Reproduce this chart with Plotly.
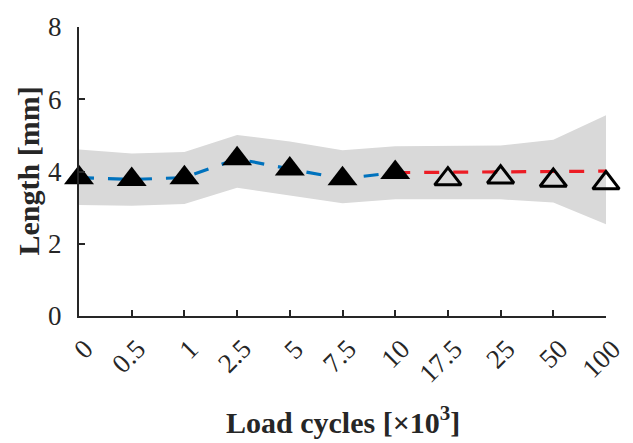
import plotly.graph_objects as go

categories = ["0", "0.5", "1", "2.5", "5", "7.5", "10", "17.5", "25", "50", "100"]
measured = [3.83, 3.78, 3.83, 4.35, 4.07, 3.80, 3.97]
projected_line = [3.97, 3.98, 3.99, 4.00, 4.01]
projected_points = [3.79, 3.84, 3.75, 3.68]
band_upper = [4.61, 4.50, 4.54, 5.01, 4.83, 4.59, 4.70, 4.70, 4.72, 4.88, 5.56]
band_lower = [3.07, 3.05, 3.10, 3.55, 3.34, 3.12, 3.23, 3.23, 3.23, 3.14, 2.54]
y_ticks = [0, 2, 4, 6, 8]

idx = list(range(len(categories)))
n_meas = len(measured)
line_idx = idx[n_meas - 1:]
pt_idx = idx[n_meas:]
N = idx[-1]

AX = "#262626"
FONT = "Liberation Serif"

fig = go.Figure()
fig.add_trace(go.Scatter(
    x=idx + idx[::-1], y=band_upper + band_lower[::-1],
    fill="toself", fillcolor="rgb(217,217,217)", line=dict(width=0),
    mode="lines", hoverinfo="skip", showlegend=False))
fig.add_trace(go.Scatter(
    x=idx[:n_meas], y=measured, mode="lines",
    line=dict(color="#0072BD", width=3.2, dash="15px,14px"), showlegend=False))
fig.add_trace(go.Scatter(
    x=line_idx, y=projected_line, mode="lines",
    line=dict(color="rgb(236,28,36)", width=3.2, dash="15px,14px"), showlegend=False))
fig.add_trace(go.Scatter(
    x=idx[:n_meas], y=measured, mode="markers", cliponaxis=False,
    marker=dict(symbol="triangle-up", size=26, color="black",
                line=dict(width=0)), showlegend=False))
fig.add_trace(go.Scatter(
    x=pt_idx, y=projected_points, mode="markers", cliponaxis=False,
    marker=dict(symbol="triangle-up-open", size=23, color="black",
                line=dict(width=3, color="black")), showlegend=False))

fig.update_layout(
    width=633, height=443,
    margin=dict(l=79, r=27, t=21, b=127),
    plot_bgcolor="white", paper_bgcolor="white",
    font=dict(family=FONT, color=AX),
    xaxis=dict(
        range=[0, N], tickvals=idx, showticklabels=False,
        showline=True, linecolor=AX, linewidth=2, mirror=False,
        ticks="inside", ticklen=6, tickwidth=1.5, tickcolor=AX,
        showgrid=False, zeroline=False),
    yaxis=dict(
        range=[0, 8], tickvals=y_ticks,
        showline=True, linecolor=AX, linewidth=2, mirror=False,
        ticks="inside", ticklen=6, tickwidth=1.5, tickcolor=AX,
        showgrid=False, zeroline=False, ticklabelstandoff=10,
        tickfont=dict(size=27, family=FONT, color=AX)),
)

# rotated category labels (MATLAB-style placement: a little right of and below each tick)
for i, lab in zip(idx, categories):
    fig.add_annotation(text=lab, xref="x", yref="paper", x=i, y=0,
                       xanchor="right", yanchor="top", xshift=23, yshift=-15,
                       textangle=-45, showarrow=False,
                       font=dict(size=27, family=FONT, color=AX))

fig.add_annotation(text="<b>Load cycles [×10<sup>3</sup>]</b>", xref="x", yref="paper",
                   x=N / 2, y=0, yshift=-104, xanchor="center", yanchor="middle",
                   showarrow=False, font=dict(size=30, family=FONT, color=AX))
fig.add_annotation(text="<b>Length [mm]</b>", xref="paper", yref="paper",
                   x=0, y=0.5, xshift=-51, xanchor="center", yanchor="middle", textangle=-90,
                   showarrow=False, font=dict(size=30, family=FONT, color=AX))

fig.write_html("out.html")
